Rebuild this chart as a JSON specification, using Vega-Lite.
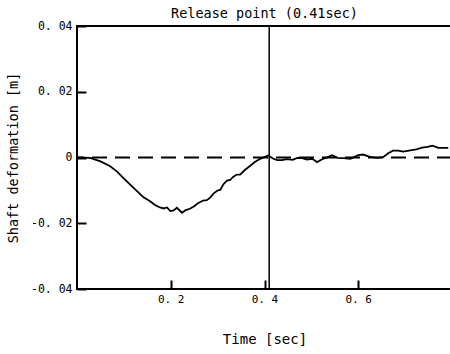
{
  "$schema": "https://vega.github.io/schema/vega-lite/v6.json",
  "autosize": {"type": "none"},
  "padding": {"left": 77, "top": 26, "right": 0, "bottom": 65},
  "width": 375,
  "height": 263,
  "background": "white",
  "config": {
    "view": {"stroke": "black", "strokeWidth": 2},
    "font": "DejaVu Sans Mono",
    "axis": {"grid": false, "domain": false, "labelColor": "black", "titleColor": "black", "tickColor": "black", "tickWidth": 2, "labelFont": "DejaVu Sans Mono", "titleFont": "DejaVu Sans Mono", "titleFontWeight": "normal"}
  },
  "title": {"text": "Release point (0.41sec)", "font": "DejaVu Sans Mono", "fontSize": 13.5, "fontWeight": "normal", "color": "black", "offset": 0, "anchor": "middle"},
  "datasets": {
    "curve": [
      {"t": 0.0, "v": 0.0},
      {"t": 0.028, "v": -0.0001},
      {"t": 0.05, "v": -0.0012},
      {"t": 0.07, "v": -0.0026},
      {"t": 0.085, "v": -0.0042},
      {"t": 0.098, "v": -0.0061},
      {"t": 0.113, "v": -0.0082},
      {"t": 0.128, "v": -0.0102},
      {"t": 0.142, "v": -0.0121},
      {"t": 0.156, "v": -0.0133},
      {"t": 0.167, "v": -0.0145},
      {"t": 0.177, "v": -0.0152},
      {"t": 0.185, "v": -0.0155},
      {"t": 0.192, "v": -0.0152},
      {"t": 0.199, "v": -0.0163},
      {"t": 0.206, "v": -0.0161},
      {"t": 0.213, "v": -0.0153},
      {"t": 0.224, "v": -0.0168},
      {"t": 0.232, "v": -0.0160},
      {"t": 0.241, "v": -0.0156},
      {"t": 0.25, "v": -0.0148},
      {"t": 0.258, "v": -0.0139},
      {"t": 0.269, "v": -0.0131},
      {"t": 0.277, "v": -0.0130},
      {"t": 0.284, "v": -0.0122},
      {"t": 0.291, "v": -0.0110},
      {"t": 0.299, "v": -0.0101},
      {"t": 0.306, "v": -0.0098},
      {"t": 0.312, "v": -0.0082},
      {"t": 0.32, "v": -0.0070},
      {"t": 0.327, "v": -0.0068},
      {"t": 0.333, "v": -0.0059},
      {"t": 0.341, "v": -0.0052},
      {"t": 0.348, "v": -0.0052},
      {"t": 0.358, "v": -0.0038},
      {"t": 0.369, "v": -0.0026},
      {"t": 0.38, "v": -0.0013},
      {"t": 0.391, "v": -0.0004},
      {"t": 0.408, "v": 0.0006},
      {"t": 0.418, "v": -0.0003},
      {"t": 0.427, "v": -0.0008},
      {"t": 0.437, "v": -0.0008},
      {"t": 0.448, "v": -0.0005},
      {"t": 0.46, "v": -0.0007},
      {"t": 0.47, "v": -0.0001},
      {"t": 0.48, "v": -0.0002},
      {"t": 0.491, "v": -0.0006},
      {"t": 0.502, "v": -0.0004},
      {"t": 0.512, "v": -0.0014},
      {"t": 0.525, "v": -0.0004},
      {"t": 0.535, "v": 0.0001},
      {"t": 0.544, "v": 0.0007},
      {"t": 0.556, "v": -0.0001},
      {"t": 0.568, "v": -0.0002},
      {"t": 0.583, "v": -0.0004},
      {"t": 0.6, "v": 0.0007},
      {"t": 0.61, "v": 0.0009},
      {"t": 0.625, "v": 0.0002},
      {"t": 0.64, "v": -0.0001},
      {"t": 0.653, "v": 0.0001},
      {"t": 0.664, "v": 0.0013},
      {"t": 0.674, "v": 0.0021},
      {"t": 0.685, "v": 0.0021},
      {"t": 0.696, "v": 0.0018},
      {"t": 0.711, "v": 0.0022},
      {"t": 0.724, "v": 0.0025},
      {"t": 0.736, "v": 0.0030},
      {"t": 0.748, "v": 0.0032},
      {"t": 0.758, "v": 0.0036},
      {"t": 0.771, "v": 0.0029},
      {"t": 0.792, "v": 0.0029}
    ],
    "zero": [{"v": 0}],
    "release": [{"t": 0.41}]
  },
  "layer": [
    {
      "data": {"name": "zero"},
      "mark": {"type": "rule", "color": "black", "strokeWidth": 2, "strokeDash": [15, 8]},
      "encoding": {
        "y": {"field": "v", "type": "quantitative", "scale": {"domain": [-0.04, 0.04]}}
      }
    },
    {
      "data": {"name": "release"},
      "mark": {"type": "rule", "color": "black", "strokeWidth": 1.5},
      "encoding": {
        "x": {"field": "t", "type": "quantitative", "scale": {"domain": [0, 0.8]}}
      }
    },
    {
      "data": {"name": "curve"},
      "mark": {"type": "line", "color": "black", "strokeWidth": 1.8, "interpolate": "linear"},
      "encoding": {
        "x": {"field": "t", "type": "quantitative", "scale": {"domain": [0, 0.8], "nice": false},
          "axis": {"title": "Time [sec]", "values": [0.2, 0.4, 0.6], "tickSize": -9, "labelPadding": 13, "labelFontSize": 11, "titleFontSize": 14, "titlePadding": 28,
            "labelExpr": "replace(format(datum.value, '.1f'), '.', '. ')"}},
        "y": {"field": "v", "type": "quantitative", "scale": {"domain": [-0.04, 0.04], "nice": false},
          "axis": {"title": "Shaft deformation [m]", "values": [-0.04, -0.02, 0, 0.02, 0.04], "tickSize": -9, "labelPadding": 14, "labelFontSize": 11.5, "titleFontSize": 13.5, "titlePadding": 10,
            "labelExpr": "datum.value == 0 ? '0' : replace(replace(format(datum.value, '.2f'), '.', '. '), '\u2212', '-')"}}
      }
    }
  ]
}
